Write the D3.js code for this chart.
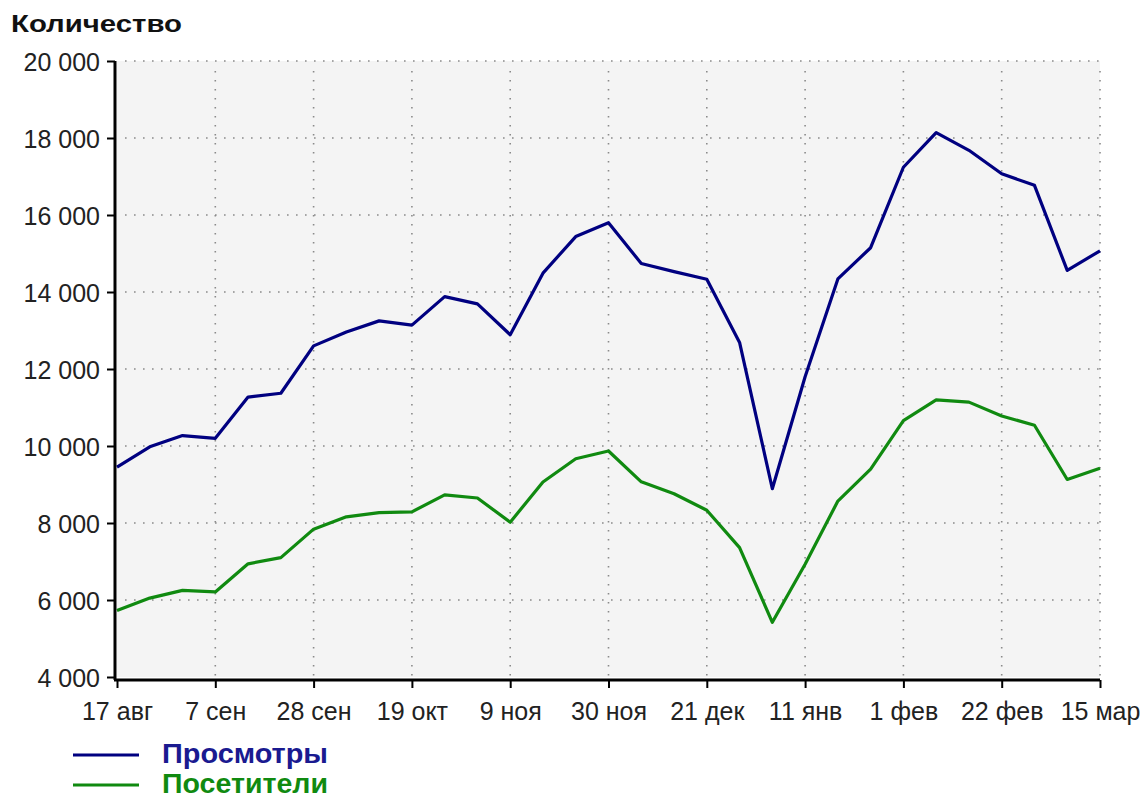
<!DOCTYPE html>
<html><head><meta charset="utf-8">
<script src="https://cdn.jsdelivr.net/npm/d3@7"></script>
<style>body{margin:0;background:#fff}svg{display:block}</style>
</head><body>
<svg id="c" width="1148" height="799"></svg>
<script>
const weeks = ["17 авг","24 авг","31 авг","7 сен","14 сен","21 сен","28 сен","5 окт","12 окт","19 окт","26 окт","2 ноя","9 ноя","16 ноя","23 ноя","30 ноя","7 дек","14 дек","21 дек","28 дек","4 янв","11 янв","18 янв","25 янв","1 фев","8 фев","15 фев","22 фев","1 мар","8 мар","15 мар"];
const tickLabels = ["17 авг","7 сен","28 сен","19 окт","9 ноя","30 ноя","21 дек","11 янв","1 фев","22 фев","15 мар"];
const views = [9450,9980,10270,10200,11270,11370,12600,12960,13250,13140,13880,13690,12890,14490,15440,15800,14740,14530,14330,12690,8890,11800,14340,15150,17240,18140,17680,17070,16770,14560,15070];
const visitors = [5730,6050,6250,6210,6940,7100,7840,8160,8270,8290,8730,8650,8020,9065,9670,9870,9070,8760,8330,7360,5420,6930,8570,9400,10660,11200,11140,10780,10540,9130,9420];
const yTicks = [4000,6000,8000,10000,12000,14000,16000,18000,20000];
const seriesNames = ["Просмотры","Посетители"];
const seriesColors = ["#000080","#108a10"];
const legendColors = ["#1a1a90","#108a10"];

const svg = d3.select("#c");
const L = 117, R = 1100, T = 61, B = 677;
const x = d3.scalePoint().domain(weeks).range([L, R]);
const y = d3.scaleLinear().domain([4000, 20000]).range([B, T]);
const font = "'Liberation Sans', Arial, sans-serif";

svg.append("rect").attr("x", L).attr("y", T).attr("width", R - L).attr("height", B - T).attr("fill", "#f4f4f4");

// grid
const grid = svg.append("g").attr("stroke", "#8a8a8a").attr("stroke-width", 1.6).attr("stroke-dasharray", "1.6,7.4");
grid.selectAll(".h").data(yTicks.slice(1)).join("line")
  .attr("x1", L + 8).attr("x2", R).attr("y1", d => y(d)).attr("y2", d => y(d));
grid.selectAll(".v").data(tickLabels.slice(1)).join("line")
  .attr("x1", d => x(d)).attr("x2", d => x(d)).attr("y1", T + 10).attr("y2", B);

// lines
const line = arr => d3.line().x((d, i) => x(weeks[i])).y(d => y(d))(arr);
[visitors, views].forEach((arr, k) => {
  svg.append("path").attr("d", line(arr)).attr("fill", "none")
    .attr("stroke", k === 0 ? seriesColors[1] : seriesColors[0])
    .attr("stroke-width", 3.2).attr("stroke-linejoin", "round");
});

// y axis
const yAxis = d3.axisLeft(y).tickValues(yTicks).tickSize(12).tickPadding(3)
  .tickFormat(d => d3.format(",")(d).replace(/,/g, " "));
const gy = svg.append("g").attr("transform", `translate(${L - 2},0)`).call(yAxis);
gy.select(".domain").attr("stroke", "#000").attr("stroke-width", 3).attr("d", `M0,${T}V${B + 3}`);
gy.selectAll(".tick line").attr("stroke", "#000").attr("stroke-width", 2).attr("x2", -8);
gy.selectAll(".tick text").attr("font-family", font).attr("font-size", 25).attr("fill", "#222")
  .attr("x", -15).attr("dy", "0.36em");

// x axis
const xAxis = d3.axisBottom(x).tickValues(tickLabels).tickSize(8).tickPadding(10);
const gx = svg.append("g").attr("transform", `translate(0,${B + 3})`).call(xAxis);
gx.select(".domain").attr("stroke", "#000").attr("stroke-width", 3).attr("d", `M${L - 3},0H${R}`);
gx.selectAll(".tick line").attr("stroke", "#000").attr("stroke-width", 2);
gx.selectAll(".tick text").attr("font-family", font).attr("font-size", 25).attr("fill", "#222")
  .attr("y", 40).attr("dy", 0);

// title
svg.append("text").attr("x", 11).attr("y", 32).text("Количество")
  .attr("font-family", font).attr("font-weight", "bold").attr("font-size", 24).attr("fill", "#111")
  .attr("textLength", 171).attr("lengthAdjust", "spacingAndGlyphs");

// legend
const lg = svg.append("g");
seriesNames.forEach((n, i) => {
  const yy = 755 + i * 30;
  lg.append("line").attr("x1", 73).attr("x2", 139).attr("y1", yy).attr("y2", yy)
    .attr("stroke", seriesColors[i]).attr("stroke-width", 3.2);
  lg.append("text").attr("x", 162).attr("y", yy + 8).text(n)
    .attr("font-family", font).attr("font-weight", "bold").attr("font-size", 28)
    .attr("fill", legendColors[i])
    .attr("textLength", 166).attr("lengthAdjust", "spacingAndGlyphs");
});
</script>
</body></html>
